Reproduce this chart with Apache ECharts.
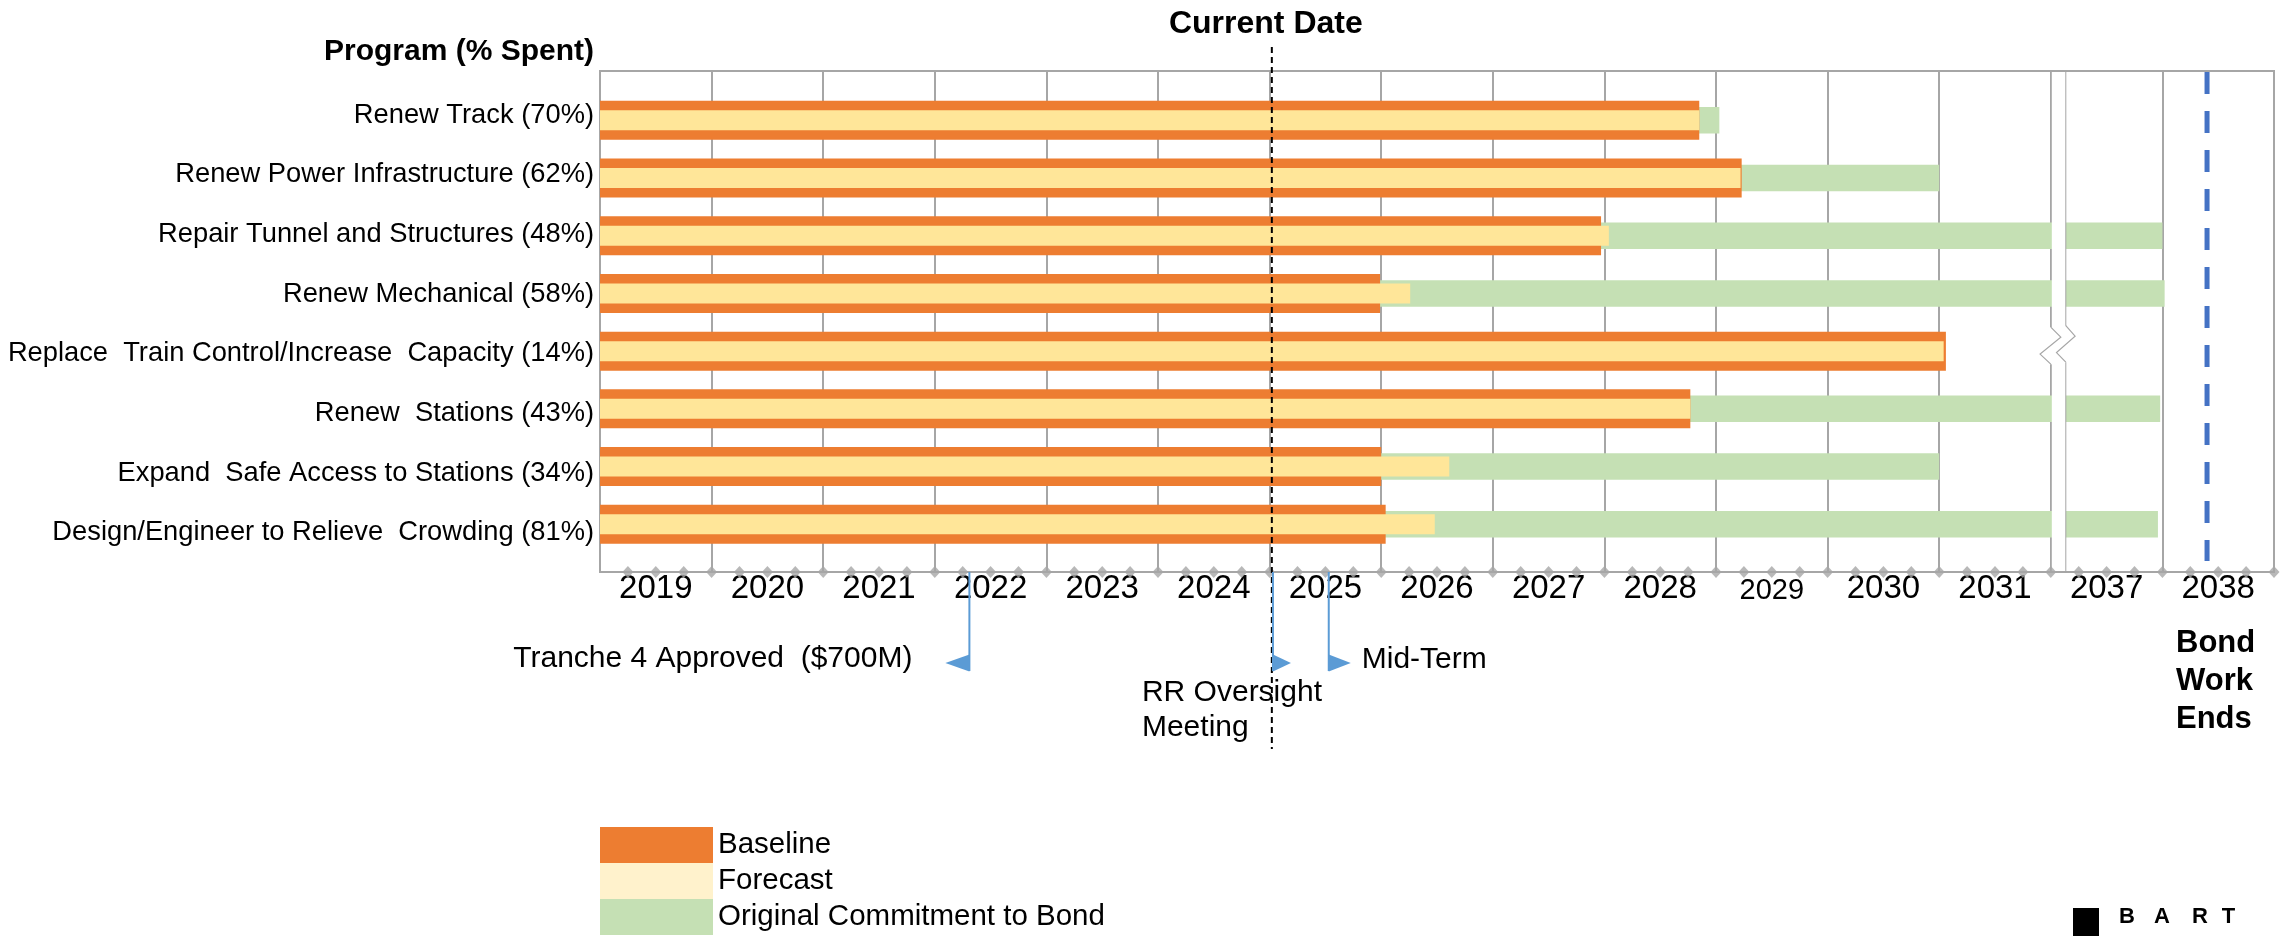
<!DOCTYPE html>
<html>
<head>
<meta charset="utf-8">
<script src="https://cdn.jsdelivr.net/npm/echarts@6/dist/echarts.min.js"></script>
<style>html,body{margin:0;padding:0;background:#fff}#c{width:2295px;height:936px}</style>
</head>
<body>
<div id="c"></div>
<script>
// ---------------- data ----------------
const programs = [
  'Renew Track (70%)',
  'Renew Power Infrastructure (62%)',
  'Repair Tunnel and Structures (48%)',
  'Renew Mechanical (58%)',
  'Replace  Train Control/Increase  Capacity (14%)',
  'Renew  Stations (43%)',
  'Expand  Safe Access to Stations (34%)',
  'Design/Engineer to Relieve  Crowding (81%)'
];
// end dates in decimal years (all programs start at 2019.0)
const baselineEnd   = [2028.85, 2029.23, 2027.97, 2025.99, 2031.06, 2028.77, 2026.00, 2026.04];
const forecastEnd   = [2028.85, 2029.22, 2028.04, 2026.26, 2031.04, 2028.77, 2026.61, 2026.48];
const commitmentEnd = [2029.03, 2031.00, 2038.00, 2038.02, 2031.00, 2037.98, 2031.00, 2037.96];
const yearLabels = ['2019','2020','2021','2022','2023','2024','2025','2026','2027','2028','2029','2030','2031','2037','2038'];
const legendNames = ['Baseline', 'Forecast', 'Original Commitment to Bond'];
const currentDate = 2025.02;
const bondWorkEnds = 2038.4;
const milestoneNames = ['Tranche 4 Approved  ($700M)', 'RR Oversight\nMeeting', 'Mid-Term'];
const milestoneDates = [2022.31, 2025.03, 2025.53];

// axis break: 2032-2036 skipped, 2037 follows 2031
function toSlot(y) { return y < 2032 ? y - 2019 : 13 + (y - 2037); }

// ---------------- styling ----------------
const FONT = "'Liberation Sans', Arial, sans-serif";
const GRAY = '#A6A6A6';
const C_BASE = '#ED7D31', C_FORE = '#FFE699', C_FORE_LEG = '#FFF2CC', C_COMMIT = '#C5E0B4';
const nSlots = yearLabels.length;

const quarterTicks = [];
for (let q = 1; q <= nSlots * 4; q++) quarterTicks.push([q / 4, 0]);

const chart = echarts.init(document.getElementById('c'), null, {renderer: 'canvas'});

const option = {
  animation: false,
  backgroundColor: '#fff',
  textStyle: {fontFamily: FONT},
  grid: [
    {left: 600, right: 21, top: 91.5, height: 461.6, outerBoundsMode: 'none', containLabel: false},   // bars
    {left: 600, right: 21, top: 71, height: 501, show: true, outerBoundsMode: 'none', containLabel: false,
     borderColor: GRAY, borderWidth: 2, backgroundColor: 'transparent'},                               // frame
    {left: 600, right: 21, top: 85.5, height: 477, outerBoundsMode: 'none', containLabel: false}      // labels
  ],
  xAxis: [
    {gridIndex: 0, type: 'value', min: 0, max: nSlots, show: false},
    {gridIndex: 1, type: 'value', min: 0, max: nSlots, interval: 1, position: 'bottom',
     axisLine: {show: true, onZero: false, lineStyle: {color: GRAY, width: 2}},
     axisTick: {show: false}, axisLabel: {show: false},
     splitLine: {show: true, lineStyle: {color: GRAY, width: 2}}},
    {gridIndex: 1, type: 'value', min: 0, max: nSlots, interval: 0.5, position: 'bottom',
     axisLine: {show: false}, axisTick: {show: false}, splitLine: {show: false},
     axisLabel: {
       show: true, margin: 0, color: '#000', fontSize: 33, fontFamily: FONT,
       formatter: function (v) {
         if (Math.abs(v % 1 - 0.5) > 1e-6) return '';
         const lab = yearLabels[Math.floor(v)];
         return lab === '2029' ? '{s|' + lab + '}' : lab;
       },
       rich: {s: {fontSize: 29, color: '#000', fontFamily: FONT, padding: [4, 0, 0, 0]}}
     }},
    {gridIndex: 2, type: 'value', min: 0, max: 1, show: false}
  ],
  yAxis: [
    {gridIndex: 0, type: 'category', inverse: true, data: programs, show: false},
    {gridIndex: 0, type: 'category', inverse: true, data: programs, show: false},
    {gridIndex: 0, type: 'category', inverse: true, data: programs, show: false},
    {gridIndex: 1, type: 'value', min: 0, max: 1, show: false},
    {gridIndex: 2, type: 'category', inverse: true, data: programs, position: 'left',
     axisLine: {show: false}, axisTick: {show: false}, splitLine: {show: false},
     axisLabel: {margin: 6, color: '#000', fontSize: 27.3, fontFamily: FONT, align: 'right'}}
  ],
  legend: {
    orient: 'vertical', left: 600, top: 827, padding: 0, itemGap: 0,
    itemWidth: 113, itemHeight: 36, icon: 'rect', selectedMode: false,
    textStyle: {fontSize: 29.5, color: '#000', fontFamily: FONT},
    data: [
      {name: legendNames[0], itemStyle: {color: C_BASE}},
      {name: legendNames[1], itemStyle: {color: C_FORE_LEG}},
      {name: legendNames[2], itemStyle: {color: C_COMMIT}}
    ]
  },
  series: [
    {name: legendNames[2], type: 'bar', xAxisIndex: 0, yAxisIndex: 0,
     data: commitmentEnd.map(toSlot), barWidth: 26.5, itemStyle: {color: C_COMMIT}, z: 2, silent: true},
    {name: legendNames[0], type: 'bar', xAxisIndex: 0, yAxisIndex: 1,
     data: baselineEnd.map(toSlot), barWidth: 39, itemStyle: {color: C_BASE}, z: 3, silent: true},
    {name: legendNames[1], type: 'bar', xAxisIndex: 0, yAxisIndex: 2,
     data: forecastEnd.map(toSlot), barWidth: 20, itemStyle: {color: C_FORE}, z: 4, silent: true},
    {name: 'ticks', type: 'scatter', xAxisIndex: 1, yAxisIndex: 3, data: quarterTicks,
     symbol: 'diamond', symbolSize: [11, 12], itemStyle: {color: GRAY}, z: 6, silent: true, clip: false}
  ]
};
chart.setOption(option);

// ---------------- annotations ----------------
const px = s => chart.convertToPixel({xAxisIndex: 1}, s);
const axisY = chart.convertToPixel({yAxisIndex: 3}, 0);
const topY = chart.convertToPixel({yAxisIndex: 3}, 1);
const g = [];

g.push({type: 'text', z: 100, style: {x: 594, y: 52, text: 'Program (% Spent)', fontSize: 30, fontWeight: 'bold',
  fontFamily: FONT, fill: '#000', align: 'right', verticalAlign: 'middle'}});

// axis break
const xb = px(13);
g.push({type: 'rect', z: 5, shape: {x: xb + 1, y: topY + 1, width: 14, height: axisY - topY - 2}, style: {fill: '#fff'}});
g.push({type: 'line', z: 5, shape: {x1: xb + 15, y1: topY, x2: xb + 15, y2: axisY + 1}, style: {stroke: GRAY, lineWidth: 1}});
const rowY = chart.convertToPixel({yAxisIndex: 1}, programs[4]);
const zl = [[0, -24], [10, -14], [-10.7, 3], [0, 13]].map(p => [xb + p[0], rowY + p[1]]);
const zr = [[15, -25.5], [24.3, -15], [5.7, 1.5], [15, 11]].map(p => [xb + p[0], rowY + p[1]]);
g.push({type: 'rect', z: 7, shape: {x: xb - 2, y: rowY - 24, width: 3.5, height: 37}, style: {fill: '#fff'}});
g.push({type: 'rect', z: 7, shape: {x: xb + 14, y: rowY - 25, width: 2.5, height: 36}, style: {fill: '#fff'}});
g.push({type: 'polygon', z: 8, shape: {points: zl.concat(zr.slice().reverse())}, style: {fill: '#fff'}});
g.push({type: 'polyline', z: 9, shape: {points: zl}, style: {stroke: GRAY, lineWidth: 1.2, fill: null}});
g.push({type: 'polyline', z: 9, shape: {points: zr}, style: {stroke: GRAY, lineWidth: 1.2, fill: null}});

// current date
const xc = px(toSlot(currentDate));
g.push({type: 'line', z: 100, shape: {x1: xc, y1: 47, x2: xc, y2: 749},
  style: {stroke: '#000', lineWidth: 2, lineDash: [6, 4]}});
g.push({type: 'text', z: 100, style: {x: xc - 6, y: 24, text: 'Current Date', fontSize: 32, fontWeight: 'bold',
  fontFamily: FONT, fill: '#000', align: 'center', verticalAlign: 'middle'}});

// bond work ends
const xe = px(toSlot(bondWorkEnds));
g.push({type: 'line', z: 100, shape: {x1: xe, y1: topY + 1, x2: xe, y2: 561},
  style: {stroke: '#4472C4', lineWidth: 5, lineDash: [22, 17]}});
g.push({type: 'text', z: 100, style: {x: 2176, y: 681, text: 'Bond\nWork\nEnds', fontSize: 31, fontWeight: 'bold',
  lineHeight: 38, fontFamily: FONT, fill: '#000', align: 'left', verticalAlign: 'middle'}});

// milestones
const msLayout = [
  {dir: -1, tip: 24, tx: -57, ty: 659, align: 'right'},
  {dir: 1, tip: 18, tx: -131, ty: 710, align: 'left'},
  {dir: 1, tip: 22, tx: 33, ty: 660, align: 'left'}
];
milestoneNames.forEach((name, i) => {
  const L = msLayout[i];
  const x = px(toSlot(milestoneDates[i]));
  g.push({type: 'line', z: 101, shape: {x1: x, y1: axisY, x2: x, y2: 671}, style: {stroke: '#5B9BD5', lineWidth: 2}});
  g.push({type: 'polygon', z: 101, shape: {points: [[x, 654.5], [x, 671.5], [x + L.dir * L.tip, 663]]},
    style: {fill: '#5B9BD5'}});
  g.push({type: 'text', z: 101, style: {x: x + L.tx, y: L.ty, text: name, fontSize: 30, lineHeight: 35,
    fontFamily: FONT, fill: '#000', align: L.align, verticalAlign: 'middle'}});
});

// BART logo
g.push({type: 'rect', z: 100, shape: {x: 2073, y: 908, width: 26, height: 28}, style: {fill: '#000'}});
['B', 'A', 'R', 'T'].forEach((ch, i) => {
  g.push({type: 'text', z: 100, style: {x: [2127, 2162, 2200, 2228.5][i], y: 917, text: ch, fontSize: 22,
    fontWeight: 'bold', fontFamily: FONT, fill: '#000', align: 'center', verticalAlign: 'middle'}});
});

chart.setOption({graphic: g});
</script>
</body>
</html>
